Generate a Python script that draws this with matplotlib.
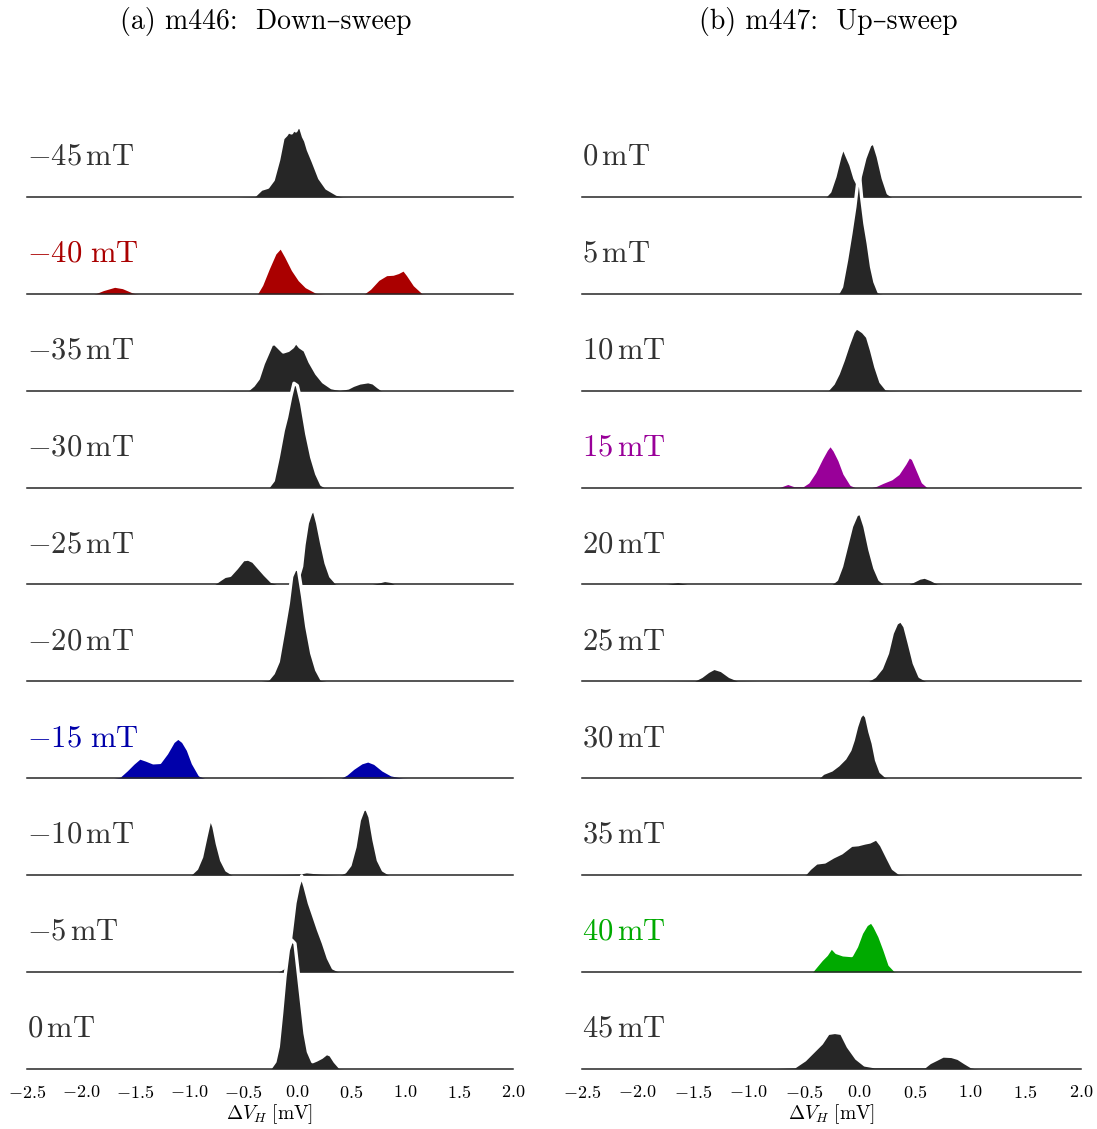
import numpy as np
import matplotlib
matplotlib.use('Agg')
import matplotlib.pyplot as plt

plt.rcParams['mathtext.fontset'] = 'cm'
plt.rcParams['font.family'] = ['cmr10', 'DejaVu Serif']

# --- m446 down-sweep: field labels and Hall-voltage distributions (x in mV, height in px) ---
down_labels = [r'$-45\,\mathrm{mT}$', r'$-40\ \mathrm{mT}$', r'$-35\,\mathrm{mT}$', r'$-30\,\mathrm{mT}$',
               r'$-25\,\mathrm{mT}$', r'$-20\,\mathrm{mT}$', r'$-15\ \mathrm{mT}$', r'$-10\,\mathrm{mT}$',
               r'$-5\,\mathrm{mT}$', r'$0\,\mathrm{mT}$']
down_x = [
    [-0.62, -0.39, -0.33, -0.27, -0.22, -0.17, -0.13, -0.10, -0.08, -0.05, -0.03, -0.01, 0.01, 0.035, 0.06,
     0.08, 0.105, 0.15, 0.21, 0.275, 0.37, 0.43, 0.61],
    [-1.95, -1.886, -1.793, -1.685, -1.608, -1.515, -1.454, -0.373, -0.327, -0.265, -0.204, -0.148, -0.096,
     -0.034, 0.028, 0.09, 0.182, 0.275, 0.614, 0.676, 0.753, 0.830, 0.892, 0.938, 0.991, 1.031, 1.093, 1.170, 1.231],
    [-0.836, -0.559, -0.451, -0.404, -0.358, -0.312, -0.265, -0.235, -0.204, -0.173, -0.127, -0.080, -0.040,
     -0.009, 0.028, 0.074, 0.120, 0.182, 0.244, 0.321, 0.398, 0.475, 0.522, 0.583, 0.660, 0.707, 0.753, 0.799, 0.861],
    [-0.7, -0.265, -0.219, -0.173, -0.127, -0.096, -0.059, -0.028, 0.003, 0.043, 0.090, 0.136, 0.182, 0.228,
     0.275, 0.6],
    [-0.775, -0.713, -0.667, -0.620, -0.559, -0.497, -0.451, -0.404, -0.358, -0.296, -0.235, -0.173, -0.003,
     0.043, 0.065, 0.096, 0.127, 0.157, 0.191, 0.228, 0.269, 0.312, 0.367, 0.522, 0.676, 0.738, 0.815, 0.877, 0.923],
    [-0.343, -0.265, -0.219, -0.173, -0.127, -0.080, -0.049, -0.019, 0.012, 0.052, 0.090, 0.136, 0.182, 0.228,
     0.306],
    [-1.731, -1.639, -1.577, -1.515, -1.454, -1.392, -1.330, -1.269, -1.207, -1.145, -1.099, -1.052, -1.006,
     -0.960, -0.898, -0.836, -0.034, 0.213, 0.398, 0.460, 0.522, 0.599, 0.660, 0.722, 0.799, 0.877, 0.985, 1.139],
    [-0.991, -0.929, -0.883, -0.843, -0.812, -0.793, -0.769, -0.738, -0.698, -0.651, -0.590, -0.250, 0.028,
     0.090, 0.213, 0.398, 0.444, 0.491, 0.537, 0.577, 0.614, 0.645, 0.676, 0.713, 0.753, 0.799, 0.861],
    [-0.188, -0.127, -0.080, -0.049, -0.019, 0.012, 0.043, 0.074, 0.114, 0.151, 0.198, 0.244, 0.290, 0.336,
     0.398],
    [-0.250, -0.204, -0.173, -0.142, -0.111, -0.080, -0.049, -0.019, 0.012, 0.043, 0.074, 0.105, 0.145, 0.182,
     0.228, 0.275, 0.312, 0.352, 0.398, 0.460],
]
down_h = [
    [0.3, 1.5, 7.7, 9.7, 17, 37, 58.7, 62, 65.3, 64, 67.7, 66, 70.3, 69, 60.3, 56, 47, 35.3, 18.7, 8.7, 2.7, 1, 0.3],
    [0, 0.3, 4.3, 7.7, 6.3, 2, 0.3, 0.3, 8.7, 25.3, 40.3, 47, 37, 23.7, 13.7, 7, 1.7, 0.3, 0.3, 5.3, 14.3, 19.3,
     19.7, 21.3, 24.3, 18.7, 8.7, 1, 0],
    [0, 1.3, 1, 5.3, 12, 27, 38.7, 46.3, 47, 43.7, 38.7, 40.3, 43.7, 48.7, 43.7, 40.3, 28.7, 17, 8.7, 3, 1.3, 2.7,
     5.3, 7.7, 9, 7.7, 3.7, 0.3, 0],
    [0.3, 0.5, 7, 30.3, 57, 70.3, 90.3, 104.3, 102, 83.7, 53.7, 30.3, 13.7, 3, 0.3, 0],
    [0, 4.7, 8, 9, 16.3, 24.7, 25.3, 23, 17.3, 9.7, 3, 0.7, 1, 18, 39.7, 61.3, 71.3, 75.3, 61.3, 41.3, 21.3, 8, 1.3,
     0.3, 0.5, 2, 4, 3, 0.3],
    [0.7, 2, 8, 19.7, 48, 78, 104.7, 112, 112, 84.7, 54.7, 28, 11.3, 2, 0.3],
    [0, 2, 8, 14.7, 20.3, 18, 15.3, 15.7, 24.7, 36.3, 40.3, 36.3, 28, 14.7, 3, 0.3, 1, 1, 0.3, 4, 9.7, 15.3, 17.3,
     14.7, 8, 3.3, 1, 0.3],
    [0, 6.3, 18, 38, 53, 55.3, 48, 31.3, 14.7, 4.7, 0.7, 1.3, 2, 3.3, 2, 0.7, 3, 9.7, 28, 54.7, 65.3, 66.3, 58,
     34.7, 14.7, 4.7, 0.7],
    [0, 3.7, 15.3, 42, 68.7, 85.3, 96, 85.3, 68.7, 57, 42, 28.7, 13.7, 3.7, 0.7],
    [0, 7, 22, 55.3, 92, 118.7, 128.7, 125.3, 95.3, 65.3, 35.3, 17, 7, 8.7, 11.3, 15.3, 13.7, 7, 1.3, 0],
]

# --- m447 up-sweep ---
up_labels = [r'$0\,\mathrm{mT}$', r'$5\,\mathrm{mT}$', r'$10\,\mathrm{mT}$', r'$15\,\mathrm{mT}$',
             r'$20\,\mathrm{mT}$', r'$25\,\mathrm{mT}$', r'$30\,\mathrm{mT}$', r'$35\,\mathrm{mT}$',
             r'$40\,\mathrm{mT}$', r'$45\,\mathrm{mT}$']
up_x = [
    [-0.310, -0.265, -0.219, -0.174, -0.144, -0.114, -0.075, -0.039, -0.009, 0.021, 0.051, 0.096, 0.132, 0.171,
     0.216, 0.261, 0.307],
    [-0.370, -0.189, -0.159, -0.114, -0.075, -0.039, -0.015, 0.0, 0.021, 0.051, 0.081, 0.111, 0.141, 0.177, 0.231],
    [-0.400, -0.280, -0.234, -0.189, -0.144, -0.099, -0.054, -0.024, 0.006, 0.036, 0.075, 0.111, 0.150, 0.195,
     0.246, 0.382],
    [-0.911, -0.715, -0.640, -0.580, -0.505, -0.460, -0.400, -0.340, -0.295, -0.258, -0.219, -0.174, -0.129,
     -0.069, -0.009, 0.081, 0.156, 0.216, 0.292, 0.352, 0.412, 0.451, 0.487, 0.532, 0.577, 0.622, 0.742],
    [-1.812, -1.722, -1.632, -1.542, -1.362, -0.760, -0.249, -0.204, -0.159, -0.114, -0.069, -0.024, 0.012, 0.051,
     0.096, 0.141, 0.186, 0.231, 0.442, 0.487, 0.547, 0.592, 0.652, 0.712, 0.833, 1.043],
    [-1.963, -1.482, -1.422, -1.362, -1.307, -1.241, -1.166, -1.091, -0.760, 0.081, 0.141, 0.201, 0.255, 0.298,
     0.337, 0.376, 0.412, 0.451, 0.496, 0.547, 0.607, 0.742],
    [-0.370, -0.325, -0.249, -0.189, -0.129, -0.084, -0.054, -0.024, 0.006, 0.036, 0.066, 0.096, 0.126, 0.156,
     0.195, 0.246, 0.292],
    [-0.760, -0.490, -0.445, -0.385, -0.310, -0.234, -0.159, -0.069, -0.009, 0.051, 0.096, 0.156, 0.201, 0.261,
     0.307, 0.367, 0.472],
    [-0.430, -0.385, -0.340, -0.295, -0.249, -0.204, -0.144, -0.069, -0.024, 0.021, 0.066, 0.111, 0.141, 0.186,
     0.231, 0.277, 0.328, 0.382],
    [-1.662, -1.151, -0.760, -0.580, -0.490, -0.415, -0.340, -0.280, -0.219, -0.159, -0.099, -0.024, 0.051, 0.141,
     0.592, 0.637, 0.697, 0.757, 0.833, 0.893, 0.953, 1.013, 1.103],
]
up_h = [
    [0, 5.3, 20.3, 40.3, 50.3, 42, 32, 18.7, 12, 25.3, 38.7, 52, 54.3, 40.3, 18.7, 3.7, 0.3],
    [0.7, 1, 7, 33.7, 60.3, 87, 110, 122, 97, 70.3, 50.3, 27, 12, 2, 0],
    [0.7, 1.3, 7, 17, 30.3, 45.3, 58.7, 63, 61, 58.7, 53.7, 40.3, 23.7, 8.7, 1.7, 0.3],
    [0, 1.3, 4.3, 2, 2, 5.3, 15.3, 28.7, 37.7, 43, 37, 27, 13.7, 3, 0.3, 0.3, 2.3, 5.3, 8.7, 13.7, 23.7, 31.3,
     28.7, 17, 5.3, 1, 0.3],
    [0.3, 1.3, 3, 1, 0.7, 0.7, 0.7, 4.7, 18, 38, 58, 69.7, 71.3, 58, 34.7, 16.3, 4.7, 0.7, 0.7, 3, 6.3, 7.3, 4.7,
     1.3, 0.7, 0],
    [0.7, 1.3, 4.7, 9.7, 13, 10.7, 4.7, 1.3, 0.7, 0.7, 4.7, 13, 28, 48, 58, 60.7, 54.7, 38, 18, 4.7, 1, 0.3],
    [0, 4.7, 8, 13, 19.7, 28, 38, 51.3, 61.3, 65.3, 61.3, 46.3, 34.7, 18, 6.3, 1.3, 0],
    [1, 0.7, 6.3, 12, 13, 18, 22, 29.7, 30.3, 32, 33, 36.3, 29.7, 16.3, 6.3, 1.3, 0.3],
    [0, 6, 12, 17, 24.7, 19.3, 17, 16.3, 25.3, 38.7, 47, 50.3, 45.3, 35.3, 22, 7, 1, 0],
    [0.3, 1.3, 1.3, 2, 8.7, 17, 25.3, 35.3, 36.3, 35.3, 22, 10.3, 3.7, 2, 2, 6, 9.3, 12.7, 12.3, 10.3, 6, 2, 0],
]

DARK = '#262626'
down_colors = {1: '#aa0000', 6: '#0000aa'}
up_colors = {3: '#990099', 8: '#00aa00'}

W, H = 1097, 1129
ROW_STEP = 96.86
XMIN, XMAX = -2.5, 2.0
ticks = np.arange(-2.5, 2.01, 0.5)


def draw_ridges(ax, labels, xs, hs, colors):
    n = len(labels)
    for i in range(n):
        base = (n - 1 - i) * ROW_STEP
        x = np.concatenate([[XMIN], xs[i], [XMAX]])
        y = base + np.concatenate([[0], hs[i], [0]])
        col = colors.get(i, DARK)
        z = 3 * i + 2
        ax.fill_between(x, base, y, color=col, lw=0, zorder=z, clip_on=False)
        ax.plot(x, y, color='white', lw=2.4, zorder=z + 0.5, clip_on=False, solid_capstyle='round')
        ax.plot([XMIN, XMAX], [base, base], color=DARK, lw=1.1, zorder=z + 1, clip_on=False)
        ax.text(XMIN, base + 32, labels[i], color=col if i in colors else '#333333',
                fontsize=22, ha='left', va='baseline', zorder=100)

    ax.set_xlim(XMIN, XMAX)
    ax.set_ylim(0, H - 60.3 - 100)
    ax.set_yticks([])
    ax.set_xticks(ticks)
    ax.set_xticklabels([r'$%.1f$' % t for t in ticks])
    ax.tick_params(axis='x', length=0, pad=11, labelsize=13)
    ax.set_xlabel(r'$\Delta V_H\ [\mathrm{mV}]$', fontsize=14, labelpad=1)
    for s in ax.spines.values():
        s.set_visible(False)
    ax.patch.set_alpha(0)


fig = plt.figure(figsize=(W / 100, H / 100), dpi=100)
ax_bottom = 60.3 / H
ax_height = (H - 60.3 - 100) / H
ax_left = fig.add_axes([27 / W, ax_bottom, (513 - 27) / W, ax_height])
ax_right = fig.add_axes([582 / W, ax_bottom, (1081 - 582) / W, ax_height])

draw_ridges(ax_left, down_labels, down_x, down_h, down_colors)
draw_ridges(ax_right, up_labels, up_x, up_h, up_colors)

fig.text(266 / W, 1 - 22 / H, '(a) m446:  Down\u2013sweep', ha='center', va='center', fontsize=20)
fig.text(828 / W, 1 - 22 / H, '(b) m447:  Up\u2013sweep', ha='center', va='center', fontsize=20)

fig.savefig('out.png', dpi=100)
